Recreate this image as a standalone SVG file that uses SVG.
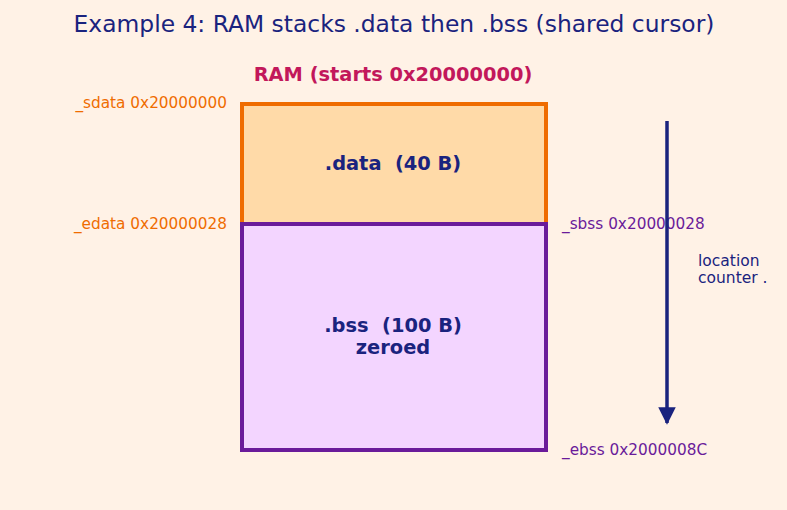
<svg xmlns="http://www.w3.org/2000/svg" width="787" height="510" viewBox="0 0 787 510">
<defs>
<style>
text{font-family:"DejaVu Sans","Liberation Sans",sans-serif}
.title{font-size:23.4px;fill:#1A237E}
.sub{font-size:19.4px;font-weight:bold;fill:#C2185B}
.lbl{font-size:15.3px}
.or{fill:#EF6C00}
.pu{fill:#6A1B9A}
.box{font-size:19.4px;font-weight:bold;fill:#1A237E}
.cnt{font-size:15.5px;fill:#1A237E}
</style>
<marker id="ah" viewBox="0 0 10 10" refX="9" refY="5" markerWidth="5" markerHeight="5.2" markerUnits="strokeWidth" orient="auto">
<path d="M0,0 L10,5 L0,10 z" fill="#1A237E"/>
</marker>
</defs>
<rect width="787" height="510" fill="#FFF2E6"/>
<text class="title" x="394" y="32" text-anchor="middle">Example 4: RAM stacks .data then .bss (shared cursor)</text>
<text class="sub" x="393" y="81" text-anchor="middle">RAM (starts 0x20000000)</text>
<g id="data">
<rect x="242" y="104" width="304" height="120" fill="#FFDAA8" stroke="#EF6C00" stroke-width="4"/>
<text class="box" x="393" y="170" text-anchor="middle" xml:space="preserve">.data  (40 B)</text>
</g>
<g id="bss">
<rect x="242" y="224" width="304" height="226" fill="#F3D5FF" stroke="#6A1B9A" stroke-width="4"/>
<text class="box" x="393" y="332" text-anchor="middle" xml:space="preserve">.bss  (100 B)</text>
<text class="box" x="393" y="354" text-anchor="middle">zeroed</text>
</g>
<g id="labels">
<text class="lbl or" x="227" y="108" text-anchor="end">_sdata 0x20000000</text>
<text class="lbl or" x="227" y="229" text-anchor="end">_edata 0x20000028</text>
<text class="lbl pu" x="562" y="229">_sbss 0x20000028</text>
<text class="lbl pu" x="562" y="455">_ebss 0x2000008C</text>
<text class="cnt" x="698" y="266">location</text>
<text class="cnt" x="698" y="283">counter .</text>
</g>
<g id="connectors">
<line x1="667" y1="121" x2="667" y2="423" stroke="#1A237E" stroke-width="3.5" marker-end="url(#ah)"/>
</g>
</svg>
